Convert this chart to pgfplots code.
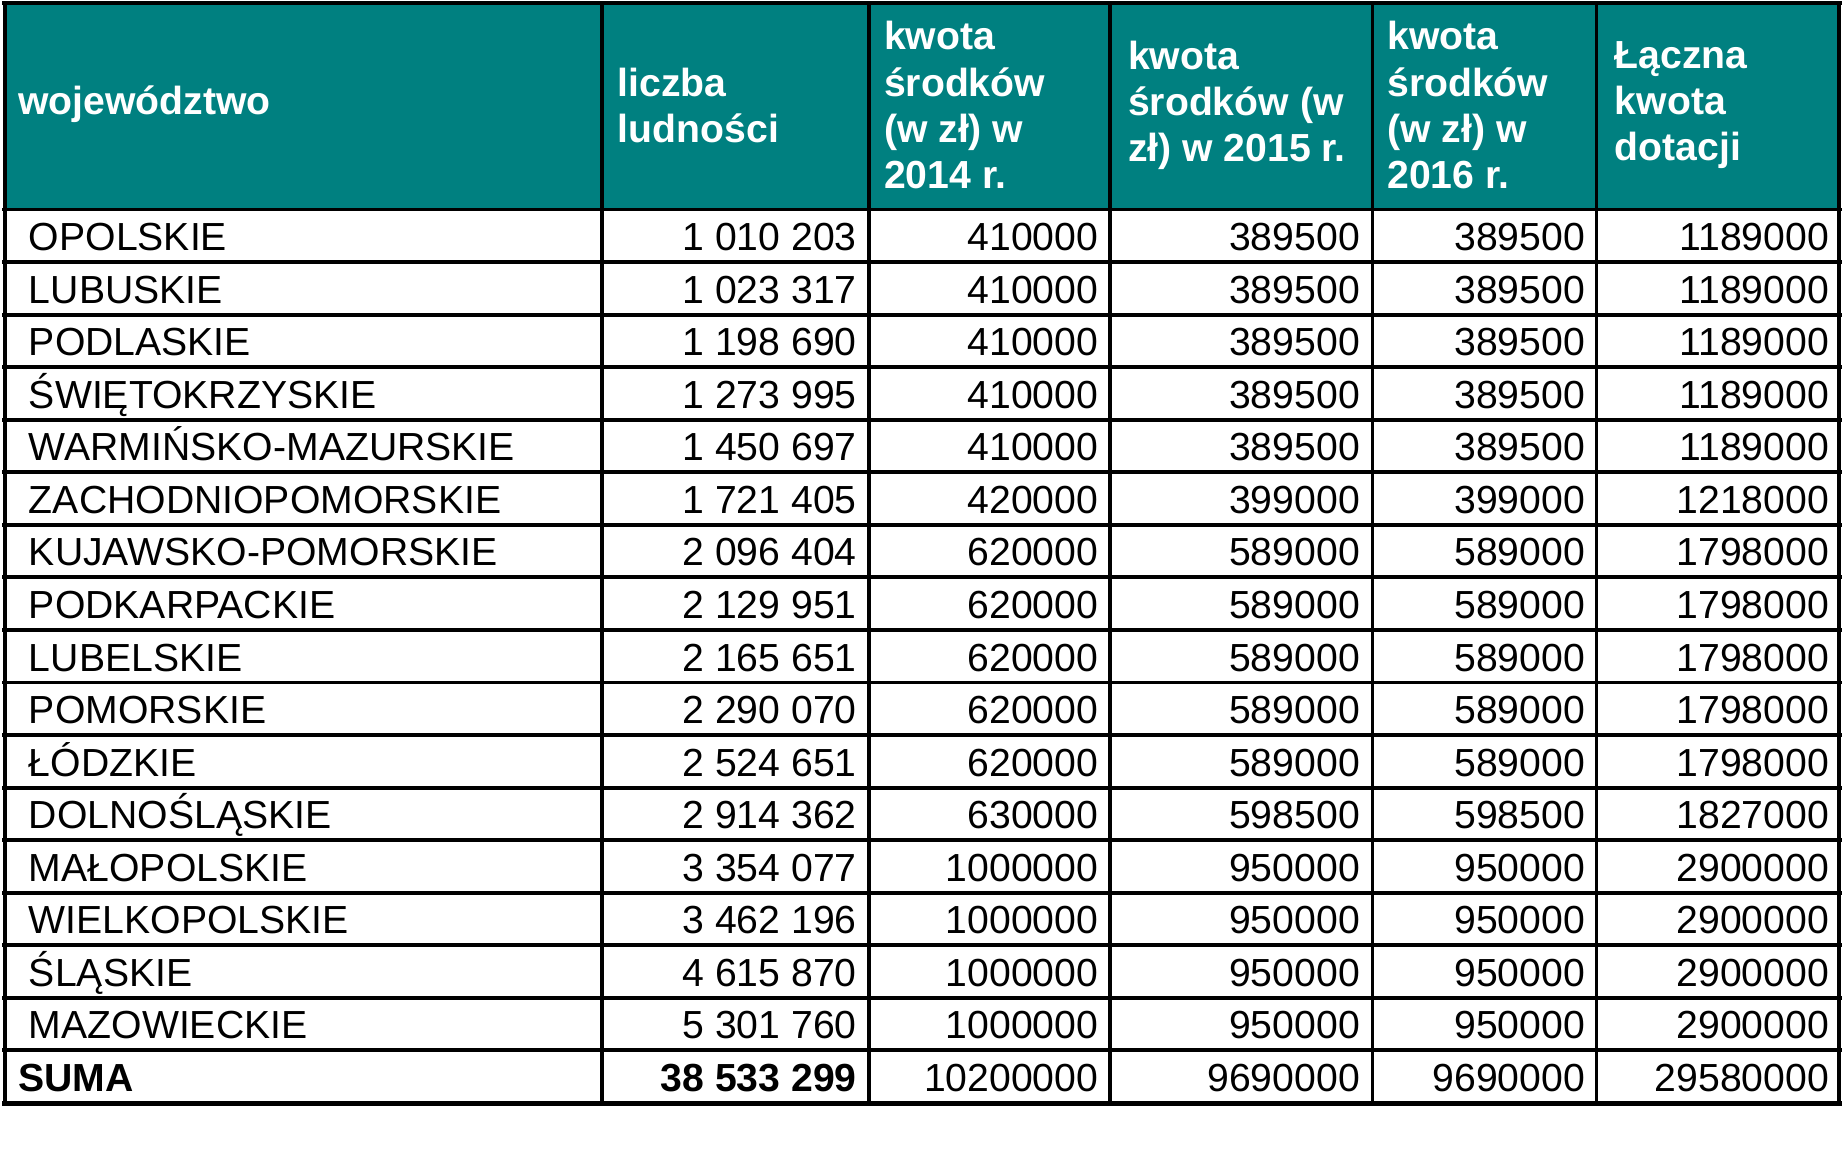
\documentclass[border=0pt]{standalone}
\usepackage{pgfplots}
\pgfplotsset{compat=1.18}
\usepackage{pgfplotstable}
\usepackage{fontspec}
\setmainfont{Liberation Sans}
\definecolor{headteal}{HTML}{008080}

% y = centre of the text in the row, counted in px from the top of the picture
\pgfplotstableread[col sep=semicolon, row sep=\\]{
y;name;pop;k14;k15;k16;total\\
198.0;OPOLSKIE;1 010 203;410000;389500;389500;1189000\\
242.8;LUBUSKIE;1 023 317;410000;389500;389500;1189000\\
287.6;PODLASKIE;1 198 690;410000;389500;389500;1189000\\
332.4;ŚWIĘTOKRZYSKIE;1 273 995;410000;389500;389500;1189000\\
377.2;WARMIŃSKO-MAZURSKIE;1 450 697;410000;389500;389500;1189000\\
422.0;ZACHODNIOPOMORSKIE;1 721 405;420000;399000;399000;1218000\\
466.8;KUJAWSKO-POMORSKIE;2 096 404;620000;589000;589000;1798000\\
511.6;PODKARPACKIE;2 129 951;620000;589000;589000;1798000\\
556.4;LUBELSKIE;2 165 651;620000;589000;589000;1798000\\
601.2;POMORSKIE;2 290 070;620000;589000;589000;1798000\\
646.0;ŁÓDZKIE;2 524 651;620000;589000;589000;1798000\\
690.8;DOLNOŚLĄSKIE;2 914 362;630000;598500;598500;1827000\\
735.6;MAŁOPOLSKIE;3 354 077;1000000;950000;950000;2900000\\
780.4;WIELKOPOLSKIE;3 462 196;1000000;950000;950000;2900000\\
825.2;ŚLĄSKIE;4 615 870;1000000;950000;950000;2900000\\
870.0;MAZOWIECKIE;5 301 760;1000000;950000;950000;2900000\\
}\woj

\pgfplotstableread[col sep=semicolon, row sep=\\]{
y;name;pop;k14;k15;k16;total\\
915.0;SUMA;38 533 299;10200000;9690000;9690000;29580000\\
}\suma

\begin{document}
\begin{tikzpicture}
\begin{axis}[
  hide axis, scale only axis,
  width=15.68cm, height=9.9cm,
  xmin=0, xmax=1568, ymin=0, ymax=990,
  y dir=reverse, clip=false,
  cell/.style={only marks, mark=none, nodes near coords,
    point meta=explicit symbolic},
  every node near coord/.append style={inner sep=0pt, text=black,
    font=\fontsize{9.5}{11.1}\selectfont,
    text height=1.72ex, text depth=0.1ex},
]
\path (axis cs:0,0) rectangle (axis cs:1568,990);

% header
\fill[headteal] (axis cs:2,2) rectangle (axis cs:1566,178);
\begin{scope}[every node/.style={anchor=west, align=left, inner sep=0pt,
    text=white, font=\fontsize{9.5}{11.2}\selectfont\bfseries}]
\node at (axis cs:13,88) {województwo};
\node at (axis cs:524,89) {liczba\\ludności};
\node at (axis cs:751,89) {kwota\\środków\\(w zł) w\\2014 r.};
\node at (axis cs:959,89) {kwota\\środków (w\\zł) w 2015 r.};
\node at (axis cs:1180,89) {kwota\\środków\\(w zł) w\\2016 r.};
\node at (axis cs:1374,89) {Łączna\\kwota\\dotacji};
\end{scope}

% body
\addplot[cell, nodes near coords style={anchor=west}] table [x expr=22, y=y, meta=name] {\woj};
\addplot[cell, nodes near coords style={anchor=east}] table [x expr=729, y=y, meta=pop] {\woj};
\addplot[cell, nodes near coords style={anchor=east}] table [x expr=935, y=y, meta=k14] {\woj};
\addplot[cell, nodes near coords style={anchor=east}] table [x expr=1158, y=y, meta=k15] {\woj};
\addplot[cell, nodes near coords style={anchor=east}] table [x expr=1350, y=y, meta=k16] {\woj};
\addplot[cell, nodes near coords style={anchor=east}] table [x expr=1558, y=y, meta=total] {\woj};

% sum row
\addplot[cell, nodes near coords style={anchor=west, font=\fontsize{9.5}{11.1}\selectfont\bfseries}] table [x expr=13, y=y, meta=name] {\suma};
\addplot[cell, nodes near coords style={anchor=east, font=\fontsize{9.5}{11.1}\selectfont\bfseries}] table [x expr=729, y=y, meta=pop] {\suma};
\addplot[cell, nodes near coords style={anchor=east}] table [x expr=935, y=y, meta=k14] {\suma};
\addplot[cell, nodes near coords style={anchor=east}] table [x expr=1158, y=y, meta=k15] {\suma};
\addplot[cell, nodes near coords style={anchor=east}] table [x expr=1350, y=y, meta=k16] {\suma};
\addplot[cell, nodes near coords style={anchor=east}] table [x expr=1558, y=y, meta=total] {\suma};

% rules
\pgfplotsinvokeforeach{2,511,739,944,1168,1359,1566}{
  \draw[line width=0.33mm] (axis cs:#1,1) -- (axis cs:#1,941);
}
\draw[line width=0.33mm] (axis cs:0,2) -- (axis cs:1568,2);
\pgfplotsinvokeforeach{0,...,16}{
  \draw[line width=0.33mm] (axis cs:0,178+44.8*#1) -- (axis cs:1568,178+44.8*#1);
}
\draw[line width=0.4mm] (axis cs:0,940) -- (axis cs:1568,940);
\end{axis}
\end{tikzpicture}
\end{document}
